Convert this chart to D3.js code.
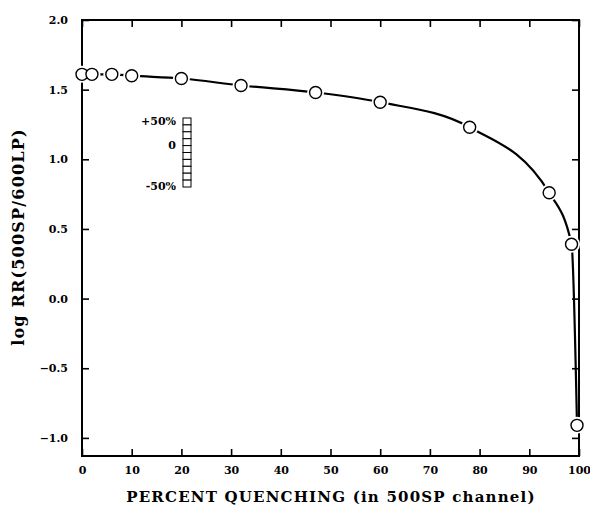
<!DOCTYPE html>
<html>
<head>
<meta charset="utf-8">
<script src="https://cdn.jsdelivr.net/npm/d3@7"></script>
<style>
  body { margin: 0; background: #fff; }
  text { font-family: "DejaVu Serif", "Liberation Serif", serif; font-weight: bold; fill: #000; }
</style>
</head>
<body>
<div id="chart"></div>
<script>
// values
const quenching = [0, 2, 6, 10, 20, 32, 47, 60, 78, 94, 98.5, 99.6];
const logRR = [1.61, 1.61, 1.61, 1.60, 1.58, 1.53, 1.48, 1.41, 1.23, 0.76, 0.39, -0.91];
const xTicks = [0, 10, 20, 30, 40, 50, 60, 70, 80, 90, 100];
const yTicks = [-1.0, -0.5, 0.0, 0.5, 1.0, 1.5, 2.0];
const scaleLabels = ["+50%", "0", "-50%"];
const scaleBoxes = d3.range(10);

const width = 590, height = 521;
const margin = { top: 20, right: 11, bottom: 65, left: 82 };
const yMin = -1.13, yMax = 2.0;

const svg = d3.select("#chart").append("svg")
    .attr("width", width)
    .attr("height", height);

const x = d3.scaleLinear().domain([0, 100]).range([margin.left, width - margin.right]);
const y = d3.scaleLinear().domain([yMin, yMax]).range([height - margin.bottom, margin.top]);

// frame
svg.append("rect")
    .attr("x", x(0))
    .attr("y", y(yMax))
    .attr("width", x(100) - x(0))
    .attr("height", y(yMin) - y(yMax))
    .attr("fill", "none")
    .attr("stroke", "#000")
    .attr("stroke-width", 2);

// axes with inward ticks
const fmt = d3.format(".1f");
svg.append("g")
    .attr("transform", `translate(0,${y(yMin)})`)
    .call(d3.axisBottom(x).tickValues(xTicks).tickSizeInner(-7).tickSizeOuter(0).tickPadding(10).tickFormat(d3.format("d")));
svg.append("g")
    .attr("transform", `translate(0,${y(yMax)})`)
    .call(d3.axisTop(x).tickValues(xTicks).tickSizeInner(-7).tickSizeOuter(0).tickFormat(""));
svg.append("g")
    .attr("transform", `translate(${x(0)},0)`)
    .call(d3.axisLeft(y).tickValues(yTicks).tickSizeInner(-7).tickSizeOuter(0).tickPadding(14).tickFormat(fmt));
svg.append("g")
    .attr("transform", `translate(${x(100)},0)`)
    .call(d3.axisRight(y).tickValues(yTicks).tickSizeInner(-7).tickSizeOuter(0).tickFormat(""));

svg.selectAll(".domain").remove();
svg.selectAll(".tick line").attr("stroke", "#000").attr("stroke-width", 1.6);
svg.selectAll(".tick text")
    .style("font-family", "'DejaVu Serif', serif")
    .style("font-weight", "bold")
    .style("font-size", "11px");

// curve through the points
const pts = quenching.map((q, i) => [q, logRR[i]]);
const line = d3.line()
    .x(d => x(d[0]))
    .y(d => y(d[1]))
    .curve(d3.curveMonotoneX);

svg.append("path")
    .datum(pts)
    .attr("d", line)
    .attr("fill", "none")
    .attr("stroke", "#000")
    .attr("stroke-width", 2.2);

// white halo makes the small gaps round each circle
svg.selectAll(".halo")
    .data(pts)
    .enter().append("circle")
    .attr("cx", d => x(d[0]))
    .attr("cy", d => y(d[1]))
    .attr("r", 8.5)
    .attr("fill", "#fff");

svg.selectAll(".pt")
    .data(pts)
    .enter().append("circle")
    .attr("cx", d => x(d[0]))
    .attr("cy", d => y(d[1]))
    .attr("r", 6)
    .attr("fill", "#fff")
    .attr("stroke", "#000")
    .attr("stroke-width", 1.4);

// little percent scale bar
const barX = 183, barTop = 118, boxH = 6.9, barW = 8;
svg.selectAll(".box")
    .data(scaleBoxes)
    .enter().append("rect")
    .attr("x", barX)
    .attr("y", d => barTop + d * boxH)
    .attr("width", barW)
    .attr("height", boxH)
    .attr("fill", "#fff")
    .attr("stroke", "#000")
    .attr("stroke-width", 1);

const labelY = [121, 145, 186];
svg.selectAll(".slabel")
    .data(scaleLabels)
    .enter().append("text")
    .attr("x", 176)
    .attr("y", (d, i) => labelY[i])
    .attr("dy", "0.35em")
    .attr("text-anchor", "end")
    .style("font-size", "11px")
    .text(d => d);

// axis titles
svg.append("text")
    .attr("x", 331)
    .attr("y", 502)
    .attr("text-anchor", "middle")
    .style("font-size", "15px")
    .style("letter-spacing", "1.2px")
    .text("PERCENT QUENCHING (in 500SP channel)");

svg.append("text")
    .attr("transform", "translate(24,237) rotate(-90)")
    .attr("text-anchor", "middle")
    .style("font-size", "16px")
    .style("letter-spacing", "1.2px")
    .text("log RR(500SP/600LP)");
</script>
</body>
</html>
